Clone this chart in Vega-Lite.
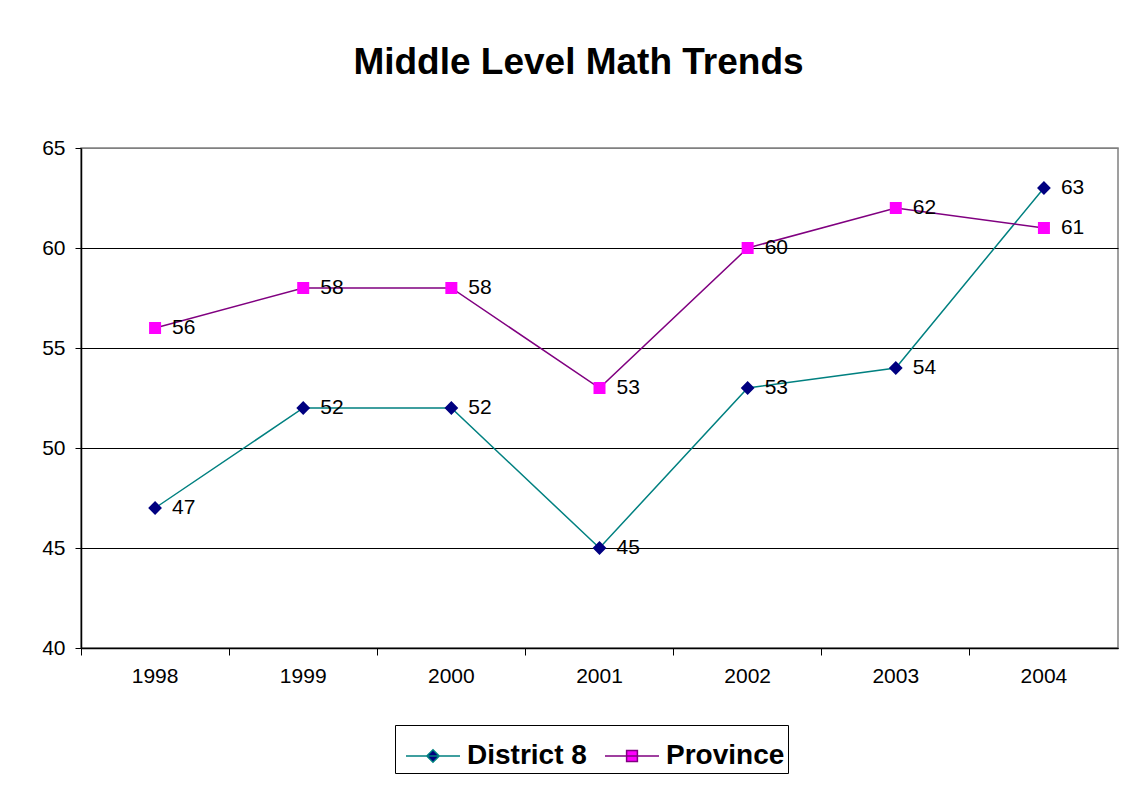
{
  "$schema": "https://vega.github.io/schema/vega-lite/v6.json",
  "autosize": {"type": "none"},
  "width": 1037,
  "height": 500,
  "padding": {"left": 81, "top": 148, "right": 22, "bottom": 141},
  "background": "white",
  "config": {
    "font": "Liberation Sans",
    "view": {"stroke": "#808080", "strokeWidth": 1.5}
  },
  "title": {
    "text": "Middle Level Math Trends",
    "fontSize": 37,
    "fontWeight": "bold",
    "font": "Liberation Sans",
    "color": "black",
    "anchor": "middle",
    "frame": "group",
    "dx": -21,
    "offset": 26,
    "baseline": "alphabetic"
  },
  "data": {
    "values": [
      {"year": "1998", "series": "District 8", "value": 47},
      {"year": "1999", "series": "District 8", "value": 52},
      {"year": "2000", "series": "District 8", "value": 52},
      {"year": "2001", "series": "District 8", "value": 45},
      {"year": "2002", "series": "District 8", "value": 53},
      {"year": "2003", "series": "District 8", "value": 54},
      {"year": "2004", "series": "District 8", "value": 63},
      {"year": "1998", "series": "Province", "value": 56},
      {"year": "1999", "series": "Province", "value": 58},
      {"year": "2000", "series": "Province", "value": 58},
      {"year": "2001", "series": "Province", "value": 53},
      {"year": "2002", "series": "Province", "value": 60},
      {"year": "2003", "series": "Province", "value": 62},
      {"year": "2004", "series": "Province", "value": 61}
    ]
  },
  "encoding": {
    "x": {
      "field": "year",
      "type": "ordinal",
      "bandPosition": 0.5,
      "scale": {"type": "band", "paddingInner": 0, "paddingOuter": 0},
      "axis": {
        "title": null,
        "bandPosition": 0,
        "labelAngle": 0,
        "tickSize": 7,
        "tickColor": "black",
        "domainColor": "black",
        "domainWidth": 1.5,
        "labelFontSize": 21,
        "labelColor": "black",
        "labelPadding": 10,
        "grid": false
      }
    },
    "y": {
      "field": "value",
      "type": "quantitative",
      "scale": {"domain": [40, 65], "nice": false, "zero": false},
      "axis": {
        "title": null,
        "values": [40, 45, 50, 55, 60, 65],
        "tickSize": 6,
        "tickColor": "black",
        "domainColor": "black",
        "domainWidth": 1.5,
        "labelFontSize": 21,
        "labelColor": "black",
        "labelPadding": 10,
        "grid": true,
        "gridColor": {"condition": {"test": "datum.value == 65", "value": "#808080"}, "value": "black"},
        "gridOpacity": 1,
        "gridWidth": 1
      }
    }
  },
  "layer": [
    {
      "mark": {"type": "line", "strokeWidth": 1.5},
      "encoding": {
        "stroke": {
          "field": "series",
          "type": "nominal",
          "scale": {"domain": ["District 8", "Province"], "range": ["#008080", "#800080"]},
          "legend": {
            "title": null,
            "orient": "none",
            "direction": "horizontal",
            "legendX": 314,
            "legendY": 577,
            "strokeColor": "black",
            "padding": 3,
            "labelFontSize": 28,
            "labelFontWeight": "bold",
            "labelColor": "black",
            "labelFont": "Liberation Sans",
            "symbolSize": 2916,
            "symbolOffset": 7,
            "symbolStrokeWidth": 1.5,
            "columnPadding": 10,
            "labelOffset": 6,
            "encode": {
              "symbols": {
                "update": {
                  "fill": {"signal": "datum.value === 'District 8' ? '#000080' : '#FF00FF'"},
                  "fillOpacity": {"value": 1},
                  "shape": {"signal": "datum.value === 'District 8' ? 'M-1,0H1M0,-0.21L0.21,0L0,0.21L-0.21,0Z' : 'M-1,0H1M-0.18,-0.18H0.18V0.18H-0.18Z'"}
                }
              }
            }
          }
        }
      }
    },
    {
      "mark": {"type": "point", "filled": true, "opacity": 1, "size": 3600, "strokeWidth": 0},
      "encoding": {
        "fill": {
          "field": "series",
          "type": "nominal",
          "scale": {"domain": ["District 8", "Province"], "range": ["#000080", "#FF00FF"]},
          "legend": null
        },
        "shape": {
          "field": "series",
          "type": "nominal",
          "scale": {
            "domain": ["District 8", "Province"],
            "range": [
              "M-1,0H1M0,-0.23L0.23,0L0,0.23L-0.23,0Z",
              "M-1,0H1M-0.2,-0.2H0.2V0.2H-0.2Z"
            ]
          },
          "legend": null
        }
      }
    },
    {
      "mark": {"type": "text", "align": "left", "baseline": "middle", "dx": 17, "fontSize": 21, "color": "black"},
      "encoding": {"text": {"field": "value", "type": "quantitative"}}
    }
  ]
}
